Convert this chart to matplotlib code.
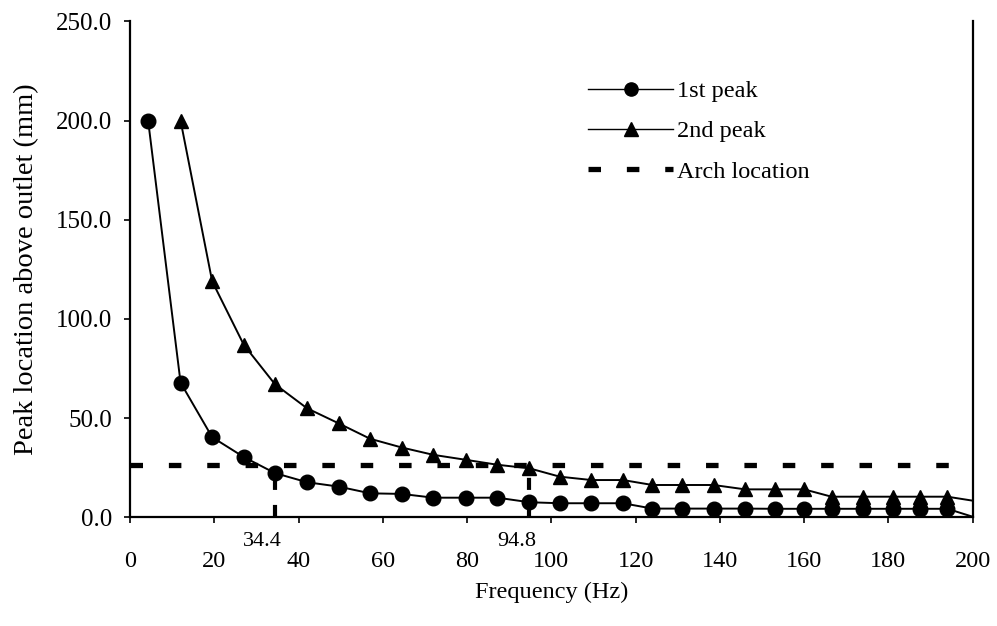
import matplotlib
matplotlib.use("Agg")
import matplotlib.pyplot as plt
import matplotlib.transforms as mtransforms
from matplotlib.ticker import FormatStrFormatter

plt.rcParams['font.family'] = ['Liberation Serif', 'DejaVu Serif']

# ---- data ----
freq = [4.3, 12.0, 19.5, 27.0, 34.4, 42.0, 49.5, 57.0, 64.5, 72.0, 79.7, 87.2,
        94.8, 102.0, 109.5, 117.0, 124.0, 131.0, 138.5, 146.0, 153.0, 160.0,
        166.5, 174.0, 181.0, 187.5, 194.0, 200.0]
peak1 = [200.0, 67.9, 40.4, 30.4, 22.3, 17.7, 15.5, 12.1, 11.8, 9.9, 9.9, 9.9,
         7.6, 7.1, 7.1, 7.1, 4.4, 4.4, 4.4, 4.4, 4.3, 4.3, 4.3, 4.3, 4.3, 4.3,
         4.3, 0.3]
freq2 = freq[1:]
peak2 = [200.0, 119.0, 87.0, 67.1, 55.0, 47.4, 39.6, 35.2, 31.5, 29.0, 26.5,
         24.7, 20.5, 18.8, 18.8, 16.3, 16.3, 16.3, 14.1, 14.1, 14.1, 10.4, 10.4,
         10.4, 10.4, 10.4, 8.4]
arch_x = [0.0, 200.0]
arch_y = [26.4, 26.4]
cross_freq = [34.4, 94.8]
cross_top = [22.3, 21.0]
cross_labels = ['34.4', '94.8']
cross_label_x = [31.3, 91.8]

x_ticks = [0, 20, 40, 60, 80, 100, 120, 140, 160, 180, 200]
y_ticks = [0, 50, 100, 150, 200, 250]

# ---- figure ----
fig = plt.figure(figsize=(9.97, 6.26), dpi=100)
ax = fig.add_axes([0.1304, 0.1736, 0.8452, 0.7921])

# vertical crossing markers
for f, top in zip(cross_freq, cross_top):
    ax.plot([f, f], [0, top], color='black', lw=3.0, dashes=(2.9, 3.6),
            solid_capstyle='butt', dash_capstyle='butt', zorder=2)

ax.plot(freq, peak1, color='black', lw=1.4, marker='o', markersize=10.5,
        markevery=list(range(len(freq) - 1)), label='1st peak', zorder=4)
ax.plot(freq2, peak2, color='black', lw=1.4, marker='^', markersize=10.5,
        markevery=list(range(len(freq2) - 1)), label='2nd peak', zorder=3)
ax.plot(arch_x, arch_y, color='black', lw=3.8, dashes=(2.37, 4.9),
        dash_capstyle='butt', label='Arch location', zorder=2)

ax.set_xlim(0, 200)
ax.set_ylim(0, 250)
ax.set_xticks(x_ticks)
ax.set_yticks(y_ticks)
ax.yaxis.set_major_formatter(FormatStrFormatter('%.1f'))

ax.spines['top'].set_visible(False)
for s in ['left', 'bottom', 'right']:
    ax.spines[s].set_linewidth(1.6)
    ax.spines[s].set_color('black')

ax.tick_params(axis='y', direction='out', length=4, width=1.2, pad=9,
               labelsize=18, right=False)
ax.tick_params(axis='x', direction='out', length=4, width=1.2, pad=20,
               labelsize=17.5, top=False)

ax.set_xlabel('Frequency (Hz)', fontsize=17.5, labelpad=7)
ax.set_ylabel('Peak location above outlet (mm)', fontsize=20.5, labelpad=12)

trans = mtransforms.blended_transform_factory(ax.transData, ax.transAxes)
for lx, lab in zip(cross_label_x, cross_labels):
    ax.text(lx, -0.048, lab, transform=trans, ha='center', va='center',
            fontsize=16)

leg = ax.legend(loc='upper left', bbox_to_anchor=(0.59, 0.872),
                bbox_transform=fig.transFigure, frameon=False, fontsize=17.5,
                handlelength=3.5, handletextpad=0.15, labelspacing=0.75,
                borderpad=0, borderaxespad=0)
for h in leg.get_lines():
    if h.get_label() != 'Arch location':
        h.set_linewidth(1.0)
        h.set_markersize(9.5)

fig.savefig('out.png', dpi=100)
